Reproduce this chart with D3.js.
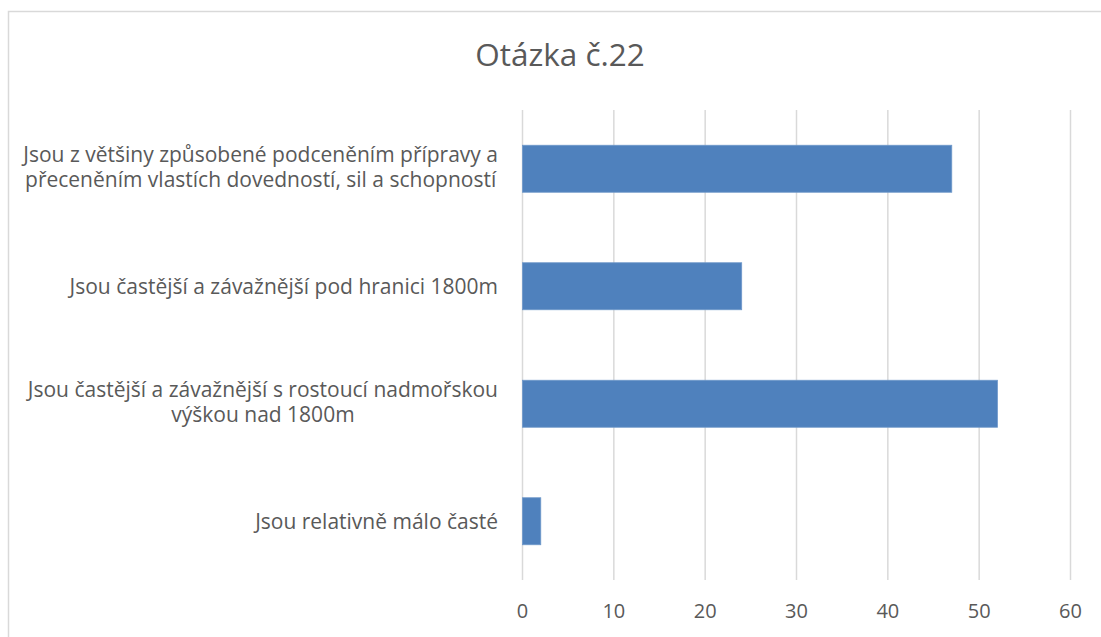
<!DOCTYPE html>
<html><head><meta charset="utf-8">
<script src="https://cdn.jsdelivr.net/npm/d3@7"></script>
<style>body{margin:0;background:#fff}</style>
</head><body>
<svg id="c" width="1101" height="637"></svg>
<script>
// ---- data ----
const title = "Otázka č.22";
const categories = [
  ["Jsou z většiny způsobené podceněním přípravy a", "přeceněním vlastích dovedností, sil a schopností"],
  ["Jsou častější a závažnější pod hranici 1800m"],
  ["Jsou častější a závažnější s rostoucí nadmořskou", "výškou nad 1800m"],
  ["Jsou relativně málo časté"]
];
const values = [47, 24, 52, 2];
const xTicks = [0, 10, 20, 30, 40, 50, 60];

// ---- layout ----
const W = 1101, H = 637;
const plot = {left: 522, right: 1070, top: 110, bottom: 580};
const textColor = "#595959";
const font = "'Open Sans', sans-serif";

const svg = d3.select("#c");

// chart border
svg.append("rect").attr("x", 8.5).attr("y", 11.5).attr("width", 1110).attr("height", 700)
  .attr("fill", "#fff").attr("stroke", "#d9d9d9").attr("stroke-width", 1.5);

// title
svg.append("text").attr("x", 560).attr("y", 66).attr("text-anchor", "middle")
  .style("font-family", font).style("font-size", "31.5px").attr("fill", textColor).text(title);

const x = d3.scaleLinear().domain([0, 60]).range([plot.left, plot.right]);
const y = d3.scaleBand().domain(d3.range(categories.length)).range([plot.top, plot.bottom]).paddingInner(0.6).paddingOuter(0.3);

// gridlines
const xAxis = d3.axisBottom(x).tickValues(xTicks).tickSize(-(plot.bottom - plot.top)).tickPadding(14).tickFormat(d3.format("d"));
const gx = svg.append("g").attr("transform", `translate(0,${plot.bottom})`).call(xAxis);
gx.select(".domain").remove();
gx.selectAll(".tick line").attr("stroke", "#d9d9d9").attr("stroke-width", 1.5);
gx.selectAll(".tick text").attr("fill", textColor).style("font-family", font).style("font-size", "20px")
  .attr("dy", null).attr("y", 38);

// bars
svg.append("g").selectAll("rect").data(values).join("rect")
  .attr("x", x(0) + 0.5)
  .attr("y", (d, i) => y(i))
  .attr("width", d => x(d) - x(0))
  .attr("height", y.bandwidth())
  .attr("fill", "#4f81bd")
  .attr("stroke", "#6f98ca").attr("stroke-width", 0.8);

// category labels
const labelRight = 498;
const lineH = 25;
categories.forEach((lines, i) => {
  const cy = y(i) + y.bandwidth() / 2;
  const g = svg.append("g");
  const ts = lines.map((ln, j) => g.append("text")
    .attr("y", cy + 7.5 + (j - (lines.length - 1) / 2) * lineH - (lines.length > 1 ? 1.5 : 0))
    .attr("text-anchor", "middle")
    .style("font-family", font).style("font-size", "21px").attr("fill", textColor).text(ln));
  const w = d3.max(ts, t => t.node().getComputedTextLength());
  ts.forEach(t => t.attr("x", labelRight - w / 2));
});
</script></body></html>
